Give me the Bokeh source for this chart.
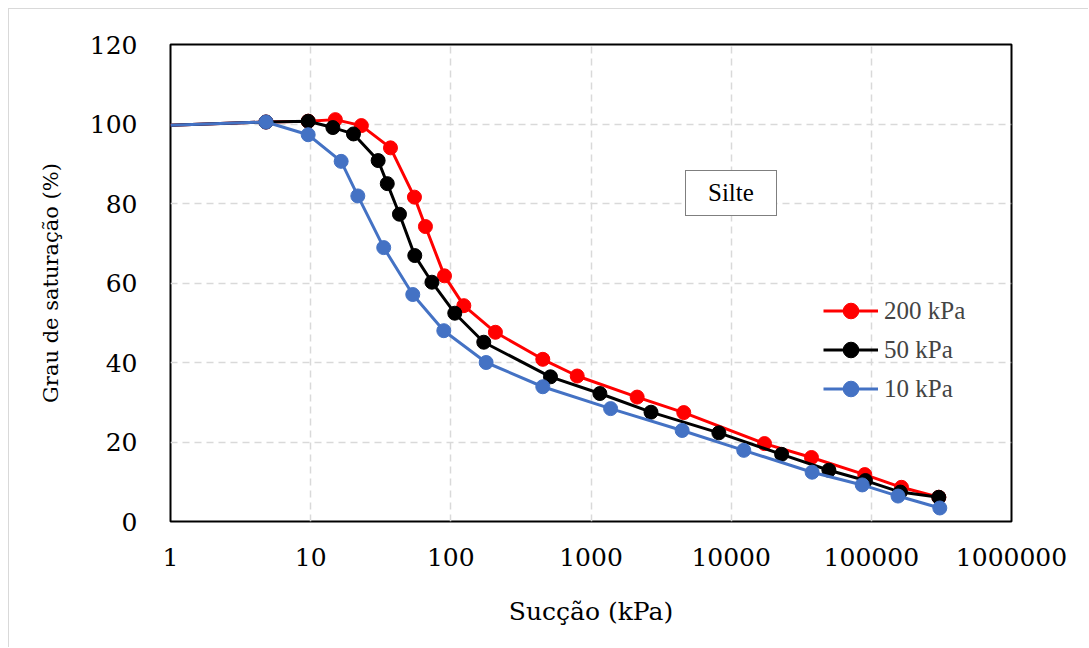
from bokeh.plotting import figure
from bokeh.models import FixedTicker, Legend, LegendItem
from bokeh.embed import file_html
from bokeh.resources import INLINE

# ---- data ----
red_x = [1, 4.8, 9.6, 15.0, 23.0, 37.1, 55.0, 65.9, 90.1, 123.8, 208, 453, 797, 2134, 4590, 17300, 37400, 89800, 164000, 303000]
red_y = [99.7, 100.5, 100.7, 101.1, 99.6, 94.0, 81.6, 74.2, 61.8, 54.3, 47.6, 40.8, 36.6, 31.3, 27.4, 19.6, 16.1, 11.8, 8.6, 6.1]

black_x = [1, 4.8, 9.6, 14.4, 20.2, 30.3, 35.2, 43.0, 55.3, 73.3, 106.7, 171.8, 514, 1157, 2680, 8170, 22900, 49800, 90800, 161000, 303000]
black_y = [99.7, 100.5, 100.7, 99.1, 97.5, 90.8, 85.0, 77.3, 66.9, 60.2, 52.4, 45.1, 36.4, 32.2, 27.5, 22.3, 16.9, 12.9, 10.3, 7.4, 6.1]

blue_x = [1, 4.8, 9.6, 16.5, 21.7, 33.2, 53.5, 89.1, 178.6, 453, 1380, 4470, 12300, 37800, 86100, 155000, 308000]
blue_y = [99.7, 100.5, 97.3, 90.6, 81.9, 68.9, 57.1, 48.0, 40.0, 33.9, 28.4, 22.9, 17.9, 12.4, 9.2, 6.4, 3.4]

series_names = ["200 kPa", "50 kPa", "10 kPa"]
series_colors = ["#ff0000", "#000000", "#4472c4"]

x_ticks = [1, 10, 100, 1000, 10000, 100000, 1000000]
x_tick_labels = ["1", "10", "100", "1000", "10000", "100000", "1000000"]
y_ticks = [0, 20, 40, 60, 80, 100, 120]

annot_text = "Silte"
annot_x, annot_y = 9890, 81.9

LEG_FONT = "Liberation Serif"
AX_FONT = "DejaVu Serif"

p = figure(width=1080, height=639, x_axis_type="log",
           x_range=(1, 1000000), y_range=(0, 120),
           output_backend="svg", toolbar_location=None,
           min_border_left=161, min_border_right=78,
           min_border_top=35, min_border_bottom=127)
p.styles = {"margin-left": "8px", "margin-top": "8px",
            "border-left": "1px solid #d9d9d9", "border-top": "1px solid #d9d9d9"}

p.outline_line_color = "black"
p.outline_line_width = 2

xa = p.xaxis[0]
ya = p.yaxis[0]
xa.ticker = FixedTicker(ticks=x_ticks)
xa.major_label_overrides = {t: l for t, l in zip(x_ticks, x_tick_labels)}
ya.ticker = FixedTicker(ticks=y_ticks)
for ax in (xa, ya):
    ax.major_label_text_font = AX_FONT
    ax.major_label_text_font_size = "25px"
    ax.axis_label_text_font = AX_FONT
    ax.axis_label_text_font_style = "normal"
    ax.major_label_text_color = "#000000"
    ax.axis_label_text_color = "#000000"
    ax.axis_line_color = None
    ax.major_tick_line_color = None
    ax.minor_tick_line_color = None
xa.axis_label = "Sucção (kPa)"
ya.axis_label = "Grau de saturação (%)"
xa.axis_label_text_font_size = "25px"
ya.axis_label_text_font_size = "21px"
xa.major_label_standoff = 20
ya.major_label_standoff = 27
xa.axis_label_standoff = 28
ya.axis_label_standoff = 24

# grid
for g in (p.xgrid[0], p.ygrid[0]):
    g.grid_line_color = "#d9d9d9"
    g.grid_line_dash = "7 5"
    g.grid_line_width = 1.5
p.xgrid[0].ticker = FixedTicker(ticks=x_ticks[1:-1])
p.ygrid[0].ticker = FixedTicker(ticks=y_ticks[1:-1])

items = []
for xs, ys, name, col in zip([red_x, black_x, blue_x], [red_y, black_y, blue_y],
                             series_names, series_colors):
    ln = p.line(xs, ys, line_color=col, line_width=3)
    sc = p.scatter(xs[1:], ys[1:], size=14, fill_color=col, line_color=col, marker="circle")
    items.append(LegendItem(label=name, renderers=[ln, sc]))

legend = Legend(items=items, location=(653, 113), orientation="vertical",
                glyph_width=55, glyph_height=39, label_height=39, spacing=0,
                padding=0, margin=0, label_standoff=6,
                label_text_font=LEG_FONT, label_text_font_size="25px",
                border_line_color=None, background_fill_alpha=0)
p.add_layout(legend, "center")

# "Silte" text box, drawn as a bordered legend-style box
dummy = p.line(x=[annot_x], y=[annot_y], line_alpha=0)
box = Legend(items=[LegendItem(label=annot_text, renderers=[dummy])], location=(515, 305),
             glyph_width=14, glyph_height=24, label_height=24, label_width=60,
             label_standoff=0, padding=8, margin=0, spacing=0,
             label_text_font=LEG_FONT, label_text_font_size="25px",
             label_text_color="#000000",
             border_line_color="black", border_line_width=1.5,
             background_fill_color="white", background_fill_alpha=1)
p.add_layout(box, "center")

open("out.html", "w").write(file_html(p, INLINE))
